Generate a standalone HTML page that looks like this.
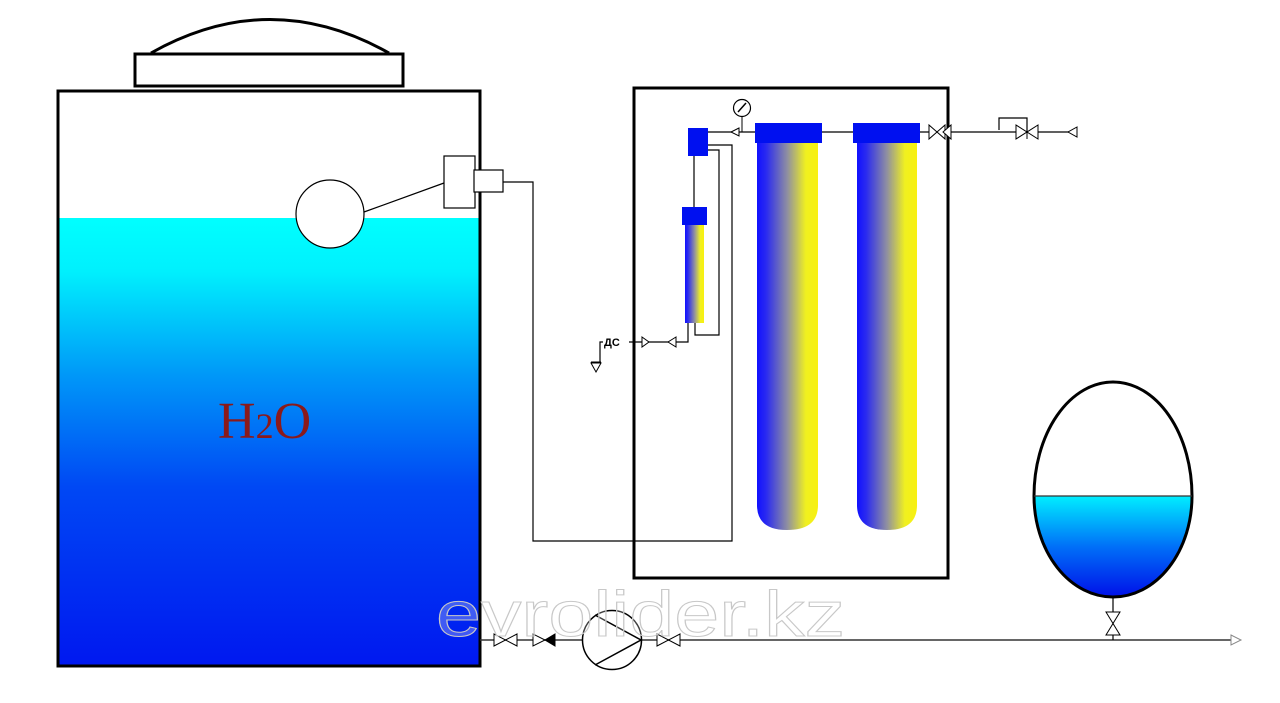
<!DOCTYPE html>
<html><head><meta charset="utf-8"><style>html,body{margin:0;padding:0;background:#fff}svg{display:block}</style></head>
<body>
<svg width="1280" height="703" viewBox="0 0 1280 703" xmlns="http://www.w3.org/2000/svg">
<defs>
<linearGradient id="water" x1="0" y1="0" x2="0" y2="1">
<stop offset="0" stop-color="#00ffff"/><stop offset="0.12" stop-color="#00f0fd"/><stop offset="0.35" stop-color="#0098f8"/><stop offset="0.6" stop-color="#0048f4"/><stop offset="1" stop-color="#0018f0"/>
</linearGradient>
<linearGradient id="ew" x1="0" y1="0" x2="0" y2="1">
<stop offset="0" stop-color="#00eeff"/><stop offset="0.5" stop-color="#0070f8"/><stop offset="1" stop-color="#0010e8"/>
</linearGradient>
<linearGradient id="filt" x1="0" y1="0" x2="1" y2="0">
<stop offset="0" stop-color="#1010ff"/><stop offset="0.15" stop-color="#2a2af0"/><stop offset="0.5" stop-color="#9090a0"/><stop offset="0.8" stop-color="#f0f020"/><stop offset="1" stop-color="#f8f010"/>
</linearGradient>
</defs>
<rect x="58" y="218" width="422" height="448" fill="url(#water)"/>
<rect x="58" y="91" width="422" height="575" fill="none" stroke="#000" stroke-width="3"/>
<rect x="135" y="54" width="268" height="32" fill="#fff" stroke="#000" stroke-width="3"/>
<path d="M151 53 Q270 -14 389 53" fill="none" stroke="#000" stroke-width="3"/>
<text x="218" y="438" font-family="Liberation Serif, serif" font-size="52" fill="#8b1a1a">H<tspan font-size="36">2</tspan>O</text>
<circle cx="330" cy="214" r="34" fill="#fff" stroke="#000" stroke-width="1.2"/>
<line x1="364" y1="212" x2="444" y2="183" stroke="#000" stroke-width="1.2"/>
<rect x="444" y="156" width="31" height="52" fill="#fff" stroke="#000" stroke-width="1.2"/>
<rect x="474" y="170" width="29" height="22" fill="#fff" stroke="#000" stroke-width="1.2"/>
<polyline points="503,182 533,182 533,541 732,541 732,145 708,145" fill="none" stroke="#000" stroke-width="1.2"/>
<rect x="634" y="88" width="314" height="490" fill="none" stroke="#000" stroke-width="3"/>
<polyline points="708,150 719,150 719,335 695,335 695,323" fill="none" stroke="#000" stroke-width="1.2"/>
<rect x="688" y="128" width="20" height="28" fill="#0010f0"/>
<line x1="694" y1="156" x2="694" y2="207" stroke="#000" stroke-width="1.2"/>
<rect x="685" y="225" width="19" height="98" fill="url(#filt)"/>
<rect x="682" y="207" width="25" height="18" fill="#0010f0"/>
<polyline points="688,323 688,342 600,342 600,362" fill="none" stroke="#000" stroke-width="1.2"/>
<polygon points="642,337 649,342 642,347" fill="#fff" stroke="#000"/>
<polygon points="676,337 668,342 676,347" fill="#fff" stroke="#000"/>
<polygon points="591,363 601,363 596,372" fill="#fff" stroke="#000"/>
<line x1="591" y1="362" x2="601" y2="362" stroke="#000"/>
<rect x="603" y="336" width="26" height="12" fill="#fff"/>
<text x="604" y="346" font-family="Liberation Sans, DejaVu Sans, sans-serif" font-size="11" font-weight="bold" fill="#000">ДС</text>
<line x1="708" y1="132" x2="1070" y2="132" stroke="#000" stroke-width="1.2"/>
<polygon points="739,128 731,132 739,136" fill="#fff" stroke="#000"/>
<line x1="742" y1="116" x2="742" y2="132" stroke="#000"/>
<circle cx="742" cy="108" r="8.5" fill="#fff" stroke="#000" stroke-width="1.2"/>
<line x1="738" y1="112" x2="746" y2="103" stroke="#000" stroke-width="1.5"/>
<path d="M757 143 L818 143 L818 505 Q818 530 787 530 Q757 530 757 505Z" fill="url(#filt)"/>
<path d="M857 143 L917 143 L917 505 Q917 530 887 530 Q857 530 857 505Z" fill="url(#filt)"/>
<rect x="755" y="123" width="67" height="20" fill="#0010f0"/>
<rect x="853" y="123" width="67" height="20" fill="#0010f0"/>
<polygon points="929,125 929,139 945,125 945,139" fill="#fff" stroke="#000"/>
<polygon points="951,125 943,132 951,139" fill="#fff" stroke="#000"/>
<polyline points="999,130 999,118 1027,118 1027,132" fill="none" stroke="#000" stroke-width="1.2"/>
<polygon points="1016,125 1016,139 1038,125 1038,139" fill="#fff" stroke="#000"/>
<line x1="1027" y1="125" x2="1027" y2="139" stroke="#000"/>
<polygon points="1077,127 1068,132 1077,137" fill="#fff" stroke="#000"/>
<line x1="480" y1="640" x2="1232" y2="640" stroke="#333" stroke-width="1.5"/>
<polygon points="1231,635 1241,640 1231,645" fill="#fff" stroke="#888"/>
<polygon points="494,634 494,646 517,634 517,646" fill="#fff" stroke="#000"/>
<polygon points="533,634 533,646 545,640" fill="#fff" stroke="#000"/>
<polygon points="555,634 555,646 545,640" fill="#000" stroke="#000"/>
<circle cx="612" cy="640" r="29.5" fill="#fff" stroke="#000" stroke-width="1.5"/>
<polyline points="595,615 641,640 595,665" fill="none" stroke="#000" stroke-width="1.5"/>
<polygon points="657,634 657,646 680,634 680,646" fill="#fff" stroke="#000"/>
<path d="M1034 496 A79 101 0 0 0 1192 496 Z" fill="url(#ew)"/>
<path d="M1034 496 A79 114 0 0 1 1192 496 A79 101 0 0 1 1034 496 Z" fill="none" stroke="#000" stroke-width="3"/>
<line x1="1034" y1="496" x2="1192" y2="496" stroke="#333" stroke-width="1.3"/>
<line x1="1113" y1="597" x2="1113" y2="640" stroke="#000" stroke-width="1.2"/>
<polygon points="1106,612 1120,612 1106,635 1120,635" fill="#fff" stroke="#000"/>
<text x="436" y="636" textLength="409" lengthAdjust="spacingAndGlyphs" font-family="Liberation Sans, sans-serif" font-size="64" fill="rgba(255,255,255,0.25)" stroke="#c8c8c8" stroke-width="1">evrolider.kz</text>
</svg>
</body></html>
